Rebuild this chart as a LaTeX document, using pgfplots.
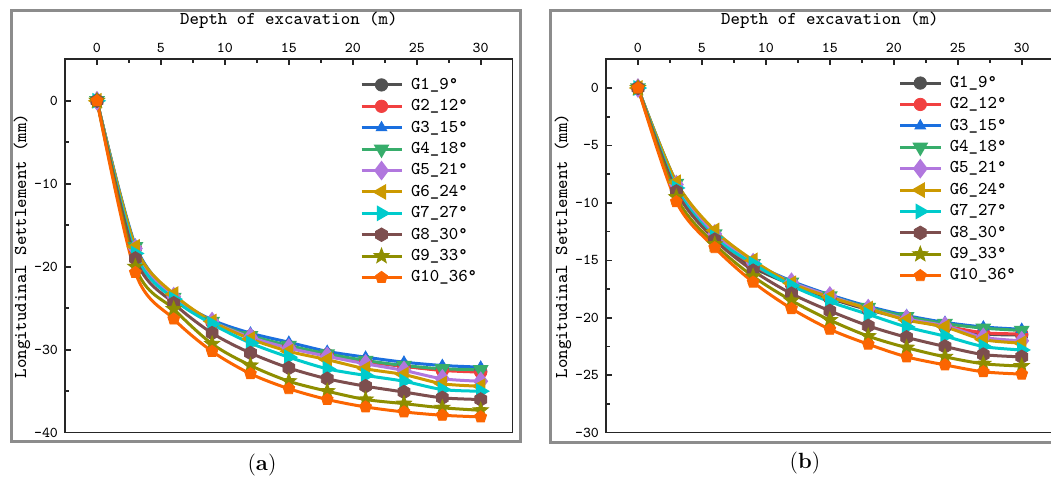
\documentclass[border=0pt]{standalone}
\usepackage{fontspec}
\usepackage{pgfplots}
\pgfplotsset{compat=1.18}
\usetikzlibrary{plotmarks}

\definecolor{cG1}{HTML}{515151}
\definecolor{cG2}{HTML}{F14040}
\definecolor{cG3}{HTML}{1A6FDF}
\definecolor{cG4}{HTML}{37AD6B}
\definecolor{cG5}{HTML}{B177DE}
\definecolor{cG6}{HTML}{CC9900}
\definecolor{cG7}{HTML}{00CBCC}
\definecolor{cG8}{HTML}{7D4E4E}
\definecolor{cG9}{HTML}{8E8E00}
\definecolor{cG10}{HTML}{FB6501}
\definecolor{frameGray}{HTML}{8C8C8C}

% filled hexagon and filled star marks
\pgfdeclareplotmark{hexagon*}{%
  \pgfpathmoveto{\pgfqpointpolar{90}{1.1\pgfplotmarksize}}%
  \pgfpathlineto{\pgfqpointpolar{150}{1.1\pgfplotmarksize}}%
  \pgfpathlineto{\pgfqpointpolar{210}{1.1\pgfplotmarksize}}%
  \pgfpathlineto{\pgfqpointpolar{270}{1.1\pgfplotmarksize}}%
  \pgfpathlineto{\pgfqpointpolar{330}{1.1\pgfplotmarksize}}%
  \pgfpathlineto{\pgfqpointpolar{30}{1.1\pgfplotmarksize}}%
  \pgfpathclose\pgfusepathqfillstroke}
\pgfdeclareplotmark{fstar}{%
  \pgfpathmoveto{\pgfqpointpolar{90}{1.3\pgfplotmarksize}}%
  \pgfpathlineto{\pgfqpointpolar{126}{0.55\pgfplotmarksize}}%
  \pgfpathlineto{\pgfqpointpolar{162}{1.3\pgfplotmarksize}}%
  \pgfpathlineto{\pgfqpointpolar{198}{0.55\pgfplotmarksize}}%
  \pgfpathlineto{\pgfqpointpolar{234}{1.3\pgfplotmarksize}}%
  \pgfpathlineto{\pgfqpointpolar{270}{0.55\pgfplotmarksize}}%
  \pgfpathlineto{\pgfqpointpolar{306}{1.3\pgfplotmarksize}}%
  \pgfpathlineto{\pgfqpointpolar{342}{0.55\pgfplotmarksize}}%
  \pgfpathlineto{\pgfqpointpolar{18}{1.3\pgfplotmarksize}}%
  \pgfpathlineto{\pgfqpointpolar{54}{0.55\pgfplotmarksize}}%
  \pgfpathclose\pgfusepathqfillstroke}

\pgfplotsset{
  ser/.style 2 args={color=#1, line width=1.5pt, smooth, mark=#2, mark size=3.1pt,
    mark options={solid, fill=#1, draw=#1, line width=0.4pt}},
  s1/.style={ser={cG1}{*}},
  s2/.style={ser={cG2}{*}},
  s3/.style={ser={cG3}{triangle*}},
  s4/.style={ser={cG4}{triangle*}, mark options={rotate=180}},
  s5/.style={ser={cG5}{diamond*}, mark options={scale=1.2}},
  s6/.style={ser={cG6}{triangle*}, mark options={rotate=90}},
  s7/.style={ser={cG7}{triangle*}, mark options={rotate=-90}},
  s8/.style={ser={cG8}{hexagon*}},
  s9/.style={ser={cG9}{fstar}},
  s10/.style={ser={cG10}{pentagon*}},
  panel/.style={
    scale only axis, width=223.85pt, height=186.7pt,
    xmin=-2.5, xmax=32.5, xtick={0,5,...,30}, minor x tick num=1,
    xtick pos=right, xticklabel pos=right, ytick pos=left,
    tick align=inside, major tick length=3pt, minor tick length=2pt,
    axis line style={line width=0.8pt, black!85},
    every tick/.style={line width=0.8pt, black!85},
    /pgf/number format/assume math mode=true,
    tick label style={font=\fontsize{7.5}{9}\selectfont\ttfamily},
    label style={font=\fontsize{9}{11}\selectfont\ttfamily},
    xlabel={Depth of excavation (m)},
    ylabel={Longitudinal Settlement (mm)},
    xlabel style={at={(axis description cs:0.5,1.105)}, anchor=center},
    ylabel style={at={(axis description cs:-0.096,0.5)}, anchor=center},
    legend cell align=left,
    legend style={draw=none, fill=none, inner sep=0pt, outer sep=0pt,
      column sep=2pt, font=\fontsize{9}{11}\selectfont\ttfamily,
      nodes={inner xsep=2pt, inner ysep=1pt, text height=6.5pt, text depth=2.2pt}},
    legend image code/.code={\draw[mark repeat=2, mark phase=2]
      plot coordinates {(0pt,0pt) (10pt,0pt) (20pt,0pt)};},
  },
}

\begin{document}
\begin{tikzpicture}
\useasboundingbox (0,0) rectangle (525.5pt,240pt);
\draw[line width=1.5pt, frameGray] (5.5pt,19pt) rectangle (260pt,234.5pt);
\draw[line width=1.5pt, frameGray] (275.25pt,18.5pt) rectangle (532pt,234.75pt);

%% (a)
\begin{axis}[panel, at={(32.5pt,23.65pt)}, anchor=south west,
  ymin=-40, ymax=5, ytick={-40,-30,...,0}, minor y tick num=1,
  legend style={at={(axis description cs:0.659,0.96)}, anchor=north west}]
\addplot[s1] coordinates {(0,0)(3,-17.8)(6,-23.8)(9,-26.7)(12,-28.4)(15,-29.6)(18,-30.6)(21,-31.4)(24,-32.0)(27,-32.4)(30,-32.6)};
\addlegendentry{G1\_9°}
\addplot[s2] coordinates {(0,0)(3,-17.8)(6,-23.8)(9,-26.7)(12,-28.4)(15,-29.6)(18,-30.6)(21,-31.4)(24,-32.0)(27,-32.5)(30,-32.7)};
\addlegendentry{G2\_12°}
\addplot[s3] coordinates {(0,0)(3,-17.4)(6,-23.6)(9,-26.4)(12,-28.0)(15,-29.1)(18,-30.2)(21,-30.9)(24,-31.5)(27,-31.9)(30,-32.1)};
\addlegendentry{G3\_15°}
\addplot[s4] coordinates {(0,0)(3,-17.6)(6,-23.7)(9,-26.6)(12,-28.3)(15,-29.5)(18,-30.5)(21,-31.3)(24,-31.9)(27,-32.3)(30,-32.4)};
\addlegendentry{G4\_18°}
\addplot[s5] coordinates {(0,0)(3,-17.8)(6,-23.6)(9,-26.6)(12,-28.5)(15,-29.8)(18,-30.8)(21,-31.7)(24,-32.5)(27,-33.5)(30,-33.8)};
\addlegendentry{G5\_21°}
\addplot[s6] coordinates {(0,0)(3,-17.6)(6,-23.3)(9,-26.6)(12,-28.7)(15,-30.2)(18,-31.2)(21,-32.3)(24,-33.0)(27,-34.1)(30,-34.4)};
\addlegendentry{G6\_24°}
\addplot[s7] coordinates {(0,0)(3,-18.4)(6,-23.9)(9,-26.9)(12,-29.2)(15,-30.9)(18,-32.3)(21,-33.1)(24,-33.8)(27,-34.8)(30,-35.0)};
\addlegendentry{G7\_27°}
\addplot[s8] coordinates {(0,0)(3,-19.0)(6,-24.4)(9,-28.0)(12,-30.4)(15,-32.2)(18,-33.5)(21,-34.4)(24,-35.1)(27,-35.8)(30,-36.0)};
\addlegendentry{G8\_30°}
\addplot[s9] coordinates {(0,0)(3,-20.0)(6,-25.1)(9,-29.3)(12,-31.9)(15,-33.8)(18,-35.0)(21,-36.0)(24,-36.5)(27,-37.0)(30,-37.3)};
\addlegendentry{G9\_33°}
\addplot[s10] coordinates {(0,0)(3,-20.7)(6,-26.3)(9,-30.2)(12,-32.9)(15,-34.7)(18,-36.0)(21,-36.9)(24,-37.5)(27,-37.9)(30,-38.1)};
\addlegendentry{G10\_36°}
\end{axis}

%% (b)
\begin{axis}[panel, at={(303pt,23.65pt)}, anchor=south west,
  ymin=-30, ymax=2.5, ytick={-30,-25,...,0}, minor y tick num=1,
  legend style={at={(axis description cs:0.654,0.965)}, anchor=north west}]
\addplot[s1] coordinates {(0,0)(3,-8.9)(6,-13.1)(9,-15.6)(12,-17.1)(15,-18.3)(18,-19.3)(21,-20.1)(24,-20.8)(27,-21.4)(30,-21.5)};
\addlegendentry{G1\_9°}
\addplot[s2] coordinates {(0,0)(3,-8.5)(6,-12.9)(9,-15.4)(12,-17.0)(15,-18.2)(18,-19.2)(21,-20.0)(24,-20.7)(27,-21.3)(30,-21.4)};
\addlegendentry{G2\_12°}
\addplot[s3] coordinates {(0,0)(3,-8.2)(6,-12.6)(9,-15.2)(12,-16.8)(15,-18.0)(18,-19.0)(21,-19.8)(24,-20.4)(27,-20.8)(30,-21.0)};
\addlegendentry{G3\_15°}
\addplot[s4] coordinates {(0,0)(3,-8.3)(6,-12.7)(9,-15.3)(12,-16.9)(15,-18.1)(18,-19.1)(21,-19.9)(24,-20.5)(27,-20.9)(30,-21.1)};
\addlegendentry{G4\_18°}
\addplot[s5] coordinates {(0,0)(3,-8.4)(6,-12.7)(9,-15.2)(12,-16.9)(15,-18.1)(18,-19.2)(21,-20.1)(24,-20.7)(27,-21.7)(30,-22.0)};
\addlegendentry{G5\_21°}
\addplot[s6] coordinates {(0,0)(3,-8.2)(6,-12.4)(9,-15.0)(12,-17.0)(15,-18.2)(18,-19.2)(21,-20.2)(24,-20.8)(27,-21.9)(30,-22.2)};
\addlegendentry{G6\_24°}
\addplot[s7] coordinates {(0,0)(3,-8.7)(6,-13.0)(9,-15.3)(12,-17.2)(15,-18.6)(18,-19.7)(21,-20.8)(24,-21.6)(27,-22.5)(30,-22.8)};
\addlegendentry{G7\_27°}
\addplot[s8] coordinates {(0,0)(3,-9.0)(6,-13.2)(9,-15.9)(12,-17.9)(15,-19.4)(18,-20.7)(21,-21.7)(24,-22.5)(27,-23.2)(30,-23.4)};
\addlegendentry{G8\_30°}
\addplot[s9] coordinates {(0,0)(3,-9.5)(6,-13.6)(9,-16.4)(12,-18.5)(15,-20.2)(18,-21.6)(21,-22.6)(24,-23.4)(27,-24.0)(30,-24.2)};
\addlegendentry{G9\_33°}
\addplot[s10] coordinates {(0,0)(3,-9.9)(6,-13.9)(9,-16.9)(12,-19.2)(15,-21.0)(18,-22.3)(21,-23.4)(24,-24.1)(27,-24.7)(30,-24.9)};
\addlegendentry{G10\_36°}
\end{axis}

\node at (131pt,7.5pt) {\fontsize{11}{13}\selectfont(\textbf{a})};
\node at (402.5pt,8.5pt) {\fontsize{11}{13}\selectfont(\textbf{b})};
\end{tikzpicture}
\end{document}
